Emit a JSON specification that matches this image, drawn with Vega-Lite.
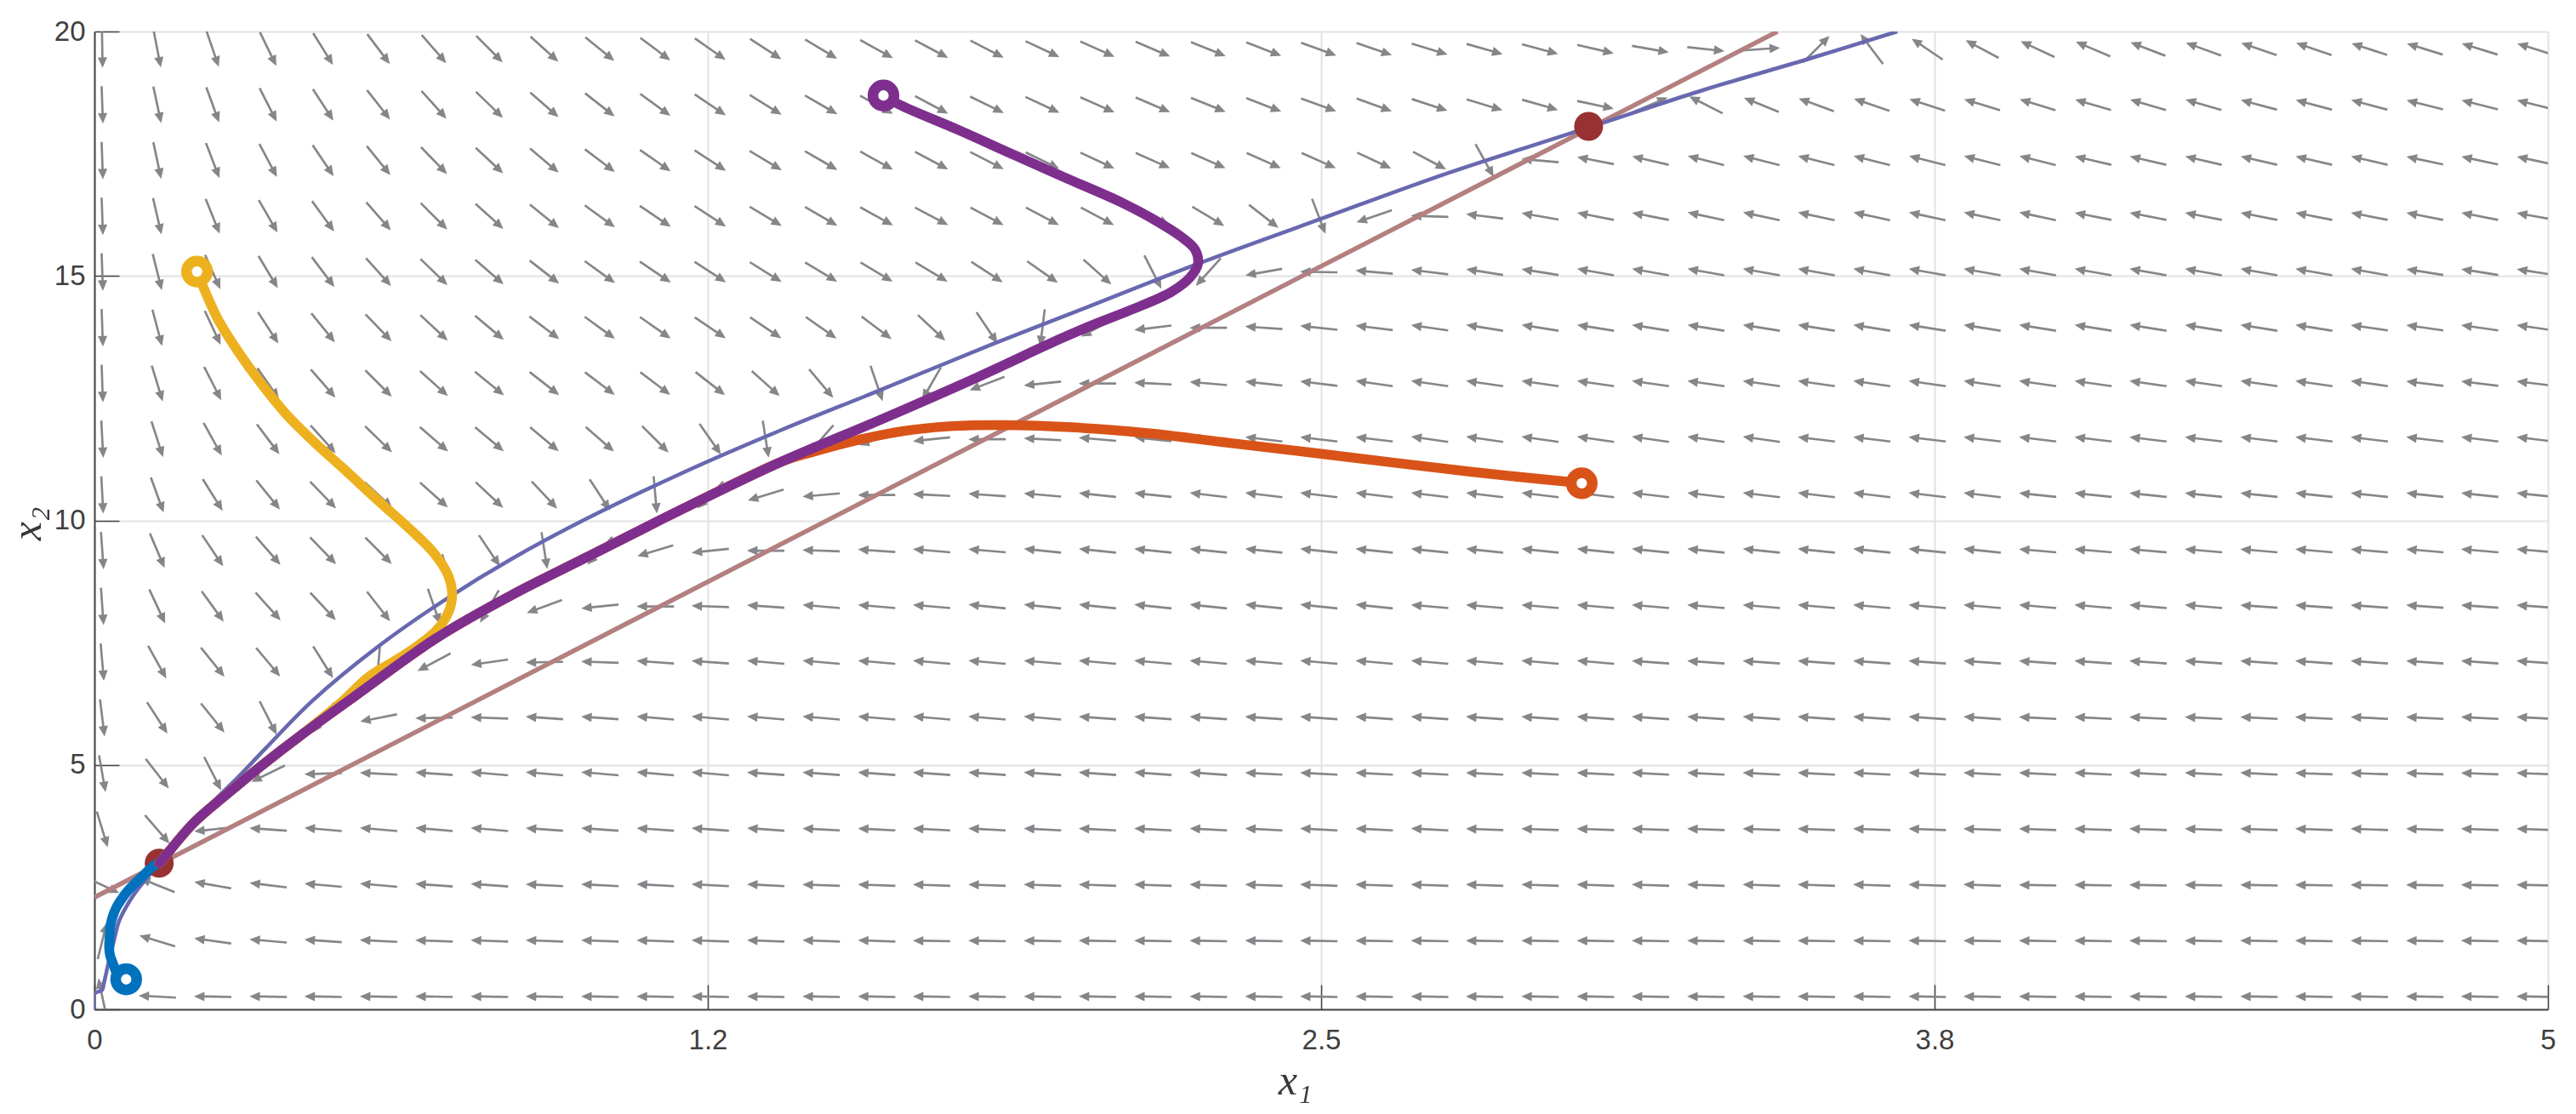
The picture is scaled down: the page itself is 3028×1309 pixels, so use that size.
{
"$schema": "https://vega.github.io/schema/vega-lite/v6.json",
"width": 2884, "height": 1149,
"autosize": {"type": "none"},
"padding": {"left": 111, "top": 37, "right": 33, "bottom": 123},
"background": "white",
"config": {
 "view": {"stroke": null},
 "axis": {"labelFont": "Liberation Sans", "labelFontSize": 33, "labelColor": "#404040", "domainColor": "#454545", "domainWidth": 2, "tickColor": "#454545", "tickWidth": 1.5, "gridColor": "#e2e2e2", "gridWidth": 2, "titleFont": "Liberation Serif", "titleFontSize": 50, "titleFontStyle": "italic", "titleFontWeight": "normal", "titleColor": "#383838"}
},
"datasets": {
"field": [
{"x":0.016,"y":0.26,"a":-12},{"x":0.128,"y":0.26,"a":-87},{"x":0.241,"y":0.26,"a":-89},{"x":0.354,"y":0.26,"a":-89},{"x":0.466,"y":0.26,"a":-89},{"x":0.579,"y":0.26,"a":-89},{"x":0.692,"y":0.26,"a":-89},{"x":0.805,"y":0.26,"a":-89},{"x":0.917,"y":0.26,"a":-89},{"x":1.03,"y":0.26,"a":-89},{"x":1.143,"y":0.26,"a":-89},{"x":1.255,"y":0.26,"a":-89},{"x":1.368,"y":0.26,"a":-89},{"x":1.481,"y":0.26,"a":-89},{"x":1.594,"y":0.26,"a":-89},{"x":1.706,"y":0.26,"a":-89},{"x":1.819,"y":0.26,"a":-89},{"x":1.932,"y":0.26,"a":-89},{"x":2.044,"y":0.26,"a":-89},{"x":2.157,"y":0.26,"a":-89},{"x":2.27,"y":0.26,"a":-89},{"x":2.383,"y":0.26,"a":-89},{"x":2.495,"y":0.26,"a":-89},{"x":2.608,"y":0.26,"a":-89},{"x":2.721,"y":0.26,"a":-89},{"x":2.833,"y":0.26,"a":-89},{"x":2.946,"y":0.26,"a":-89},{"x":3.059,"y":0.26,"a":-89},{"x":3.171,"y":0.26,"a":-89},{"x":3.284,"y":0.26,"a":-89},{"x":3.397,"y":0.26,"a":-89},{"x":3.509,"y":0.26,"a":-89},{"x":3.622,"y":0.26,"a":-89},{"x":3.735,"y":0.26,"a":-89},{"x":3.847,"y":0.26,"a":-89},{"x":3.96,"y":0.26,"a":-89},{"x":4.073,"y":0.26,"a":-89},{"x":4.185,"y":0.26,"a":-89},{"x":4.298,"y":0.26,"a":-89},{"x":4.411,"y":0.26,"a":-89},{"x":4.523,"y":0.26,"a":-89},{"x":4.636,"y":0.26,"a":-89},{"x":4.749,"y":0.26,"a":-89},{"x":4.861,"y":0.26,"a":-89},{"x":4.974,"y":0.26,"a":-89},
{"x":0.016,"y":1.4,"a":14},{"x":0.128,"y":1.4,"a":-73},{"x":0.241,"y":1.4,"a":-82},{"x":0.354,"y":1.4,"a":-85},{"x":0.466,"y":1.4,"a":-86},{"x":0.579,"y":1.4,"a":-87},{"x":0.692,"y":1.4,"a":-88},{"x":0.805,"y":1.4,"a":-88},{"x":0.917,"y":1.4,"a":-88},{"x":1.03,"y":1.4,"a":-88},{"x":1.143,"y":1.4,"a":-88},{"x":1.255,"y":1.4,"a":-88},{"x":1.368,"y":1.4,"a":-88},{"x":1.481,"y":1.4,"a":-88},{"x":1.594,"y":1.4,"a":-88},{"x":1.706,"y":1.4,"a":-89},{"x":1.819,"y":1.4,"a":-89},{"x":1.932,"y":1.4,"a":-89},{"x":2.044,"y":1.4,"a":-89},{"x":2.157,"y":1.4,"a":-89},{"x":2.27,"y":1.4,"a":-89},{"x":2.383,"y":1.4,"a":-89},{"x":2.495,"y":1.4,"a":-89},{"x":2.608,"y":1.4,"a":-89},{"x":2.721,"y":1.4,"a":-89},{"x":2.833,"y":1.4,"a":-89},{"x":2.946,"y":1.4,"a":-89},{"x":3.059,"y":1.4,"a":-89},{"x":3.171,"y":1.4,"a":-89},{"x":3.284,"y":1.4,"a":-89},{"x":3.397,"y":1.4,"a":-89},{"x":3.509,"y":1.4,"a":-89},{"x":3.622,"y":1.4,"a":-89},{"x":3.735,"y":1.4,"a":-89},{"x":3.847,"y":1.4,"a":-89},{"x":3.96,"y":1.4,"a":-89},{"x":4.073,"y":1.4,"a":-89},{"x":4.185,"y":1.4,"a":-89},{"x":4.298,"y":1.4,"a":-89},{"x":4.411,"y":1.4,"a":-89},{"x":4.523,"y":1.4,"a":-89},{"x":4.636,"y":1.4,"a":-89},{"x":4.749,"y":1.4,"a":-89},{"x":4.861,"y":1.4,"a":-89},{"x":4.974,"y":1.4,"a":-89},
{"x":0.016,"y":2.54,"a":115},{"x":0.128,"y":2.54,"a":-68},{"x":0.241,"y":2.54,"a":-80},{"x":0.354,"y":2.54,"a":-83},{"x":0.466,"y":2.54,"a":-85},{"x":0.579,"y":2.54,"a":-85},{"x":0.692,"y":2.54,"a":-86},{"x":0.805,"y":2.54,"a":-86},{"x":0.917,"y":2.54,"a":-87},{"x":1.03,"y":2.54,"a":-87},{"x":1.143,"y":2.54,"a":-87},{"x":1.255,"y":2.54,"a":-87},{"x":1.368,"y":2.54,"a":-87},{"x":1.481,"y":2.54,"a":-88},{"x":1.594,"y":2.54,"a":-88},{"x":1.706,"y":2.54,"a":-88},{"x":1.819,"y":2.54,"a":-88},{"x":1.932,"y":2.54,"a":-88},{"x":2.044,"y":2.54,"a":-88},{"x":2.157,"y":2.54,"a":-88},{"x":2.27,"y":2.54,"a":-88},{"x":2.383,"y":2.54,"a":-88},{"x":2.495,"y":2.54,"a":-88},{"x":2.608,"y":2.54,"a":-88},{"x":2.721,"y":2.54,"a":-88},{"x":2.833,"y":2.54,"a":-88},{"x":2.946,"y":2.54,"a":-88},{"x":3.059,"y":2.54,"a":-88},{"x":3.171,"y":2.54,"a":-88},{"x":3.284,"y":2.54,"a":-88},{"x":3.397,"y":2.54,"a":-88},{"x":3.509,"y":2.54,"a":-88},{"x":3.622,"y":2.54,"a":-88},{"x":3.735,"y":2.54,"a":-88},{"x":3.847,"y":2.54,"a":-88},{"x":3.96,"y":2.54,"a":-89},{"x":4.073,"y":2.54,"a":-89},{"x":4.185,"y":2.54,"a":-89},{"x":4.298,"y":2.54,"a":-89},{"x":4.411,"y":2.54,"a":-89},{"x":4.523,"y":2.54,"a":-89},{"x":4.636,"y":2.54,"a":-89},{"x":4.749,"y":2.54,"a":-89},{"x":4.861,"y":2.54,"a":-89},{"x":4.974,"y":2.54,"a":-89},
{"x":0.016,"y":3.68,"a":163},{"x":0.128,"y":3.68,"a":139},{"x":0.241,"y":3.68,"a":-96},{"x":0.354,"y":3.68,"a":-86},{"x":0.466,"y":3.68,"a":-85},{"x":0.579,"y":3.68,"a":-85},{"x":0.692,"y":3.68,"a":-85},{"x":0.805,"y":3.68,"a":-85},{"x":0.917,"y":3.68,"a":-86},{"x":1.03,"y":3.68,"a":-86},{"x":1.143,"y":3.68,"a":-86},{"x":1.255,"y":3.68,"a":-86},{"x":1.368,"y":3.68,"a":-86},{"x":1.481,"y":3.68,"a":-87},{"x":1.594,"y":3.68,"a":-87},{"x":1.706,"y":3.68,"a":-87},{"x":1.819,"y":3.68,"a":-87},{"x":1.932,"y":3.68,"a":-87},{"x":2.044,"y":3.68,"a":-87},{"x":2.157,"y":3.68,"a":-87},{"x":2.27,"y":3.68,"a":-87},{"x":2.383,"y":3.68,"a":-87},{"x":2.495,"y":3.68,"a":-87},{"x":2.608,"y":3.68,"a":-87},{"x":2.721,"y":3.68,"a":-87},{"x":2.833,"y":3.68,"a":-88},{"x":2.946,"y":3.68,"a":-88},{"x":3.059,"y":3.68,"a":-88},{"x":3.171,"y":3.68,"a":-88},{"x":3.284,"y":3.68,"a":-88},{"x":3.397,"y":3.68,"a":-88},{"x":3.509,"y":3.68,"a":-88},{"x":3.622,"y":3.68,"a":-88},{"x":3.735,"y":3.68,"a":-88},{"x":3.847,"y":3.68,"a":-88},{"x":3.96,"y":3.68,"a":-88},{"x":4.073,"y":3.68,"a":-88},{"x":4.185,"y":3.68,"a":-88},{"x":4.298,"y":3.68,"a":-88},{"x":4.411,"y":3.68,"a":-88},{"x":4.523,"y":3.68,"a":-88},{"x":4.636,"y":3.68,"a":-88},{"x":4.749,"y":3.68,"a":-88},{"x":4.861,"y":3.68,"a":-88},{"x":4.974,"y":3.68,"a":-88},
{"x":0.016,"y":4.82,"a":170},{"x":0.128,"y":4.82,"a":142},{"x":0.241,"y":4.82,"a":153},{"x":0.354,"y":4.82,"a":-116},{"x":0.466,"y":4.82,"a":-92},{"x":0.579,"y":4.82,"a":-87},{"x":0.692,"y":4.82,"a":-86},{"x":0.805,"y":4.82,"a":-85},{"x":0.917,"y":4.82,"a":-85},{"x":1.03,"y":4.82,"a":-85},{"x":1.143,"y":4.82,"a":-85},{"x":1.255,"y":4.82,"a":-85},{"x":1.368,"y":4.82,"a":-86},{"x":1.481,"y":4.82,"a":-86},{"x":1.594,"y":4.82,"a":-86},{"x":1.706,"y":4.82,"a":-86},{"x":1.819,"y":4.82,"a":-86},{"x":1.932,"y":4.82,"a":-86},{"x":2.044,"y":4.82,"a":-86},{"x":2.157,"y":4.82,"a":-86},{"x":2.27,"y":4.82,"a":-86},{"x":2.383,"y":4.82,"a":-87},{"x":2.495,"y":4.82,"a":-87},{"x":2.608,"y":4.82,"a":-87},{"x":2.721,"y":4.82,"a":-87},{"x":2.833,"y":4.82,"a":-87},{"x":2.946,"y":4.82,"a":-87},{"x":3.059,"y":4.82,"a":-87},{"x":3.171,"y":4.82,"a":-87},{"x":3.284,"y":4.82,"a":-87},{"x":3.397,"y":4.82,"a":-87},{"x":3.509,"y":4.82,"a":-87},{"x":3.622,"y":4.82,"a":-87},{"x":3.735,"y":4.82,"a":-87},{"x":3.847,"y":4.82,"a":-87},{"x":3.96,"y":4.82,"a":-87},{"x":4.073,"y":4.82,"a":-87},{"x":4.185,"y":4.82,"a":-87},{"x":4.298,"y":4.82,"a":-87},{"x":4.411,"y":4.82,"a":-87},{"x":4.523,"y":4.82,"a":-88},{"x":4.636,"y":4.82,"a":-88},{"x":4.749,"y":4.82,"a":-88},{"x":4.861,"y":4.82,"a":-88},{"x":4.974,"y":4.82,"a":-88},
{"x":0.016,"y":5.96,"a":173},{"x":0.128,"y":5.96,"a":147},{"x":0.241,"y":5.96,"a":141},{"x":0.354,"y":5.96,"a":153},{"x":0.466,"y":5.96,"a":-144},{"x":0.579,"y":5.96,"a":-101},{"x":0.692,"y":5.96,"a":-91},{"x":0.805,"y":5.96,"a":-88},{"x":0.917,"y":5.96,"a":-86},{"x":1.03,"y":5.96,"a":-86},{"x":1.143,"y":5.96,"a":-85},{"x":1.255,"y":5.96,"a":-85},{"x":1.368,"y":5.96,"a":-85},{"x":1.481,"y":5.96,"a":-85},{"x":1.594,"y":5.96,"a":-85},{"x":1.706,"y":5.96,"a":-85},{"x":1.819,"y":5.96,"a":-85},{"x":1.932,"y":5.96,"a":-85},{"x":2.044,"y":5.96,"a":-86},{"x":2.157,"y":5.96,"a":-86},{"x":2.27,"y":5.96,"a":-86},{"x":2.383,"y":5.96,"a":-86},{"x":2.495,"y":5.96,"a":-86},{"x":2.608,"y":5.96,"a":-86},{"x":2.721,"y":5.96,"a":-86},{"x":2.833,"y":5.96,"a":-86},{"x":2.946,"y":5.96,"a":-86},{"x":3.059,"y":5.96,"a":-86},{"x":3.171,"y":5.96,"a":-86},{"x":3.284,"y":5.96,"a":-86},{"x":3.397,"y":5.96,"a":-86},{"x":3.509,"y":5.96,"a":-86},{"x":3.622,"y":5.96,"a":-86},{"x":3.735,"y":5.96,"a":-86},{"x":3.847,"y":5.96,"a":-86},{"x":3.96,"y":5.96,"a":-87},{"x":4.073,"y":5.96,"a":-87},{"x":4.185,"y":5.96,"a":-87},{"x":4.298,"y":5.96,"a":-87},{"x":4.411,"y":5.96,"a":-87},{"x":4.523,"y":5.96,"a":-87},{"x":4.636,"y":5.96,"a":-87},{"x":4.749,"y":5.96,"a":-87},{"x":4.861,"y":5.96,"a":-87},{"x":4.974,"y":5.96,"a":-87},
{"x":0.016,"y":7.1,"a":175},{"x":0.128,"y":7.1,"a":151},{"x":0.241,"y":7.1,"a":141},{"x":0.354,"y":7.1,"a":140},{"x":0.466,"y":7.1,"a":148},{"x":0.579,"y":7.1,"a":-175},{"x":0.692,"y":7.1,"a":-118},{"x":0.805,"y":7.1,"a":-98},{"x":0.917,"y":7.1,"a":-91},{"x":1.03,"y":7.1,"a":-88},{"x":1.143,"y":7.1,"a":-86},{"x":1.255,"y":7.1,"a":-86},{"x":1.368,"y":7.1,"a":-85},{"x":1.481,"y":7.1,"a":-85},{"x":1.594,"y":7.1,"a":-85},{"x":1.706,"y":7.1,"a":-85},{"x":1.819,"y":7.1,"a":-85},{"x":1.932,"y":7.1,"a":-85},{"x":2.044,"y":7.1,"a":-85},{"x":2.157,"y":7.1,"a":-85},{"x":2.27,"y":7.1,"a":-85},{"x":2.383,"y":7.1,"a":-85},{"x":2.495,"y":7.1,"a":-85},{"x":2.608,"y":7.1,"a":-85},{"x":2.721,"y":7.1,"a":-85},{"x":2.833,"y":7.1,"a":-85},{"x":2.946,"y":7.1,"a":-85},{"x":3.059,"y":7.1,"a":-85},{"x":3.171,"y":7.1,"a":-86},{"x":3.284,"y":7.1,"a":-86},{"x":3.397,"y":7.1,"a":-86},{"x":3.509,"y":7.1,"a":-86},{"x":3.622,"y":7.1,"a":-86},{"x":3.735,"y":7.1,"a":-86},{"x":3.847,"y":7.1,"a":-86},{"x":3.96,"y":7.1,"a":-86},{"x":4.073,"y":7.1,"a":-86},{"x":4.185,"y":7.1,"a":-86},{"x":4.298,"y":7.1,"a":-86},{"x":4.411,"y":7.1,"a":-86},{"x":4.523,"y":7.1,"a":-86},{"x":4.636,"y":7.1,"a":-86},{"x":4.749,"y":7.1,"a":-86},{"x":4.861,"y":7.1,"a":-86},{"x":4.974,"y":7.1,"a":-86},
{"x":0.016,"y":8.24,"a":176},{"x":0.128,"y":8.24,"a":155},{"x":0.241,"y":8.24,"a":144},{"x":0.354,"y":8.24,"a":138},{"x":0.466,"y":8.24,"a":137},{"x":0.579,"y":8.24,"a":142},{"x":0.692,"y":8.24,"a":161},{"x":0.805,"y":8.24,"a":-150},{"x":0.917,"y":8.24,"a":-110},{"x":1.03,"y":8.24,"a":-96},{"x":1.143,"y":8.24,"a":-90},{"x":1.255,"y":8.24,"a":-88},{"x":1.368,"y":8.24,"a":-86},{"x":1.481,"y":8.24,"a":-85},{"x":1.594,"y":8.24,"a":-85},{"x":1.706,"y":8.24,"a":-85},{"x":1.819,"y":8.24,"a":-84},{"x":1.932,"y":8.24,"a":-84},{"x":2.044,"y":8.24,"a":-84},{"x":2.157,"y":8.24,"a":-84},{"x":2.27,"y":8.24,"a":-84},{"x":2.383,"y":8.24,"a":-84},{"x":2.495,"y":8.24,"a":-84},{"x":2.608,"y":8.24,"a":-84},{"x":2.721,"y":8.24,"a":-85},{"x":2.833,"y":8.24,"a":-85},{"x":2.946,"y":8.24,"a":-85},{"x":3.059,"y":8.24,"a":-85},{"x":3.171,"y":8.24,"a":-85},{"x":3.284,"y":8.24,"a":-85},{"x":3.397,"y":8.24,"a":-85},{"x":3.509,"y":8.24,"a":-85},{"x":3.622,"y":8.24,"a":-85},{"x":3.735,"y":8.24,"a":-85},{"x":3.847,"y":8.24,"a":-85},{"x":3.96,"y":8.24,"a":-85},{"x":4.073,"y":8.24,"a":-85},{"x":4.185,"y":8.24,"a":-85},{"x":4.298,"y":8.24,"a":-85},{"x":4.411,"y":8.24,"a":-86},{"x":4.523,"y":8.24,"a":-86},{"x":4.636,"y":8.24,"a":-86},{"x":4.749,"y":8.24,"a":-86},{"x":4.861,"y":8.24,"a":-86},{"x":4.974,"y":8.24,"a":-86},
{"x":0.016,"y":9.38,"a":176},{"x":0.128,"y":9.38,"a":157},{"x":0.241,"y":9.38,"a":146},{"x":0.354,"y":9.38,"a":139},{"x":0.466,"y":9.38,"a":136},{"x":0.579,"y":9.38,"a":135},{"x":0.692,"y":9.38,"a":137},{"x":0.805,"y":9.38,"a":146},{"x":0.917,"y":9.38,"a":171},{"x":1.03,"y":9.38,"a":-138},{"x":1.143,"y":9.38,"a":-107},{"x":1.255,"y":9.38,"a":-96},{"x":1.368,"y":9.38,"a":-90},{"x":1.481,"y":9.38,"a":-88},{"x":1.594,"y":9.38,"a":-86},{"x":1.706,"y":9.38,"a":-85},{"x":1.819,"y":9.38,"a":-85},{"x":1.932,"y":9.38,"a":-84},{"x":2.044,"y":9.38,"a":-84},{"x":2.157,"y":9.38,"a":-84},{"x":2.27,"y":9.38,"a":-84},{"x":2.383,"y":9.38,"a":-84},{"x":2.495,"y":9.38,"a":-84},{"x":2.608,"y":9.38,"a":-84},{"x":2.721,"y":9.38,"a":-84},{"x":2.833,"y":9.38,"a":-84},{"x":2.946,"y":9.38,"a":-84},{"x":3.059,"y":9.38,"a":-84},{"x":3.171,"y":9.38,"a":-84},{"x":3.284,"y":9.38,"a":-84},{"x":3.397,"y":9.38,"a":-84},{"x":3.509,"y":9.38,"a":-84},{"x":3.622,"y":9.38,"a":-84},{"x":3.735,"y":9.38,"a":-84},{"x":3.847,"y":9.38,"a":-84},{"x":3.96,"y":9.38,"a":-85},{"x":4.073,"y":9.38,"a":-85},{"x":4.185,"y":9.38,"a":-85},{"x":4.298,"y":9.38,"a":-85},{"x":4.411,"y":9.38,"a":-85},{"x":4.523,"y":9.38,"a":-85},{"x":4.636,"y":9.38,"a":-85},{"x":4.749,"y":9.38,"a":-85},{"x":4.861,"y":9.38,"a":-85},{"x":4.974,"y":9.38,"a":-85},
{"x":0.016,"y":10.52,"a":177},{"x":0.128,"y":10.52,"a":160},{"x":0.241,"y":10.52,"a":148},{"x":0.354,"y":10.52,"a":141},{"x":0.466,"y":10.52,"a":136},{"x":0.579,"y":10.52,"a":133},{"x":0.692,"y":10.52,"a":132},{"x":0.805,"y":10.52,"a":133},{"x":0.917,"y":10.52,"a":137},{"x":1.03,"y":10.52,"a":147},{"x":1.143,"y":10.52,"a":175},{"x":1.255,"y":10.52,"a":-136},{"x":1.368,"y":10.52,"a":-107},{"x":1.481,"y":10.52,"a":-95},{"x":1.594,"y":10.52,"a":-90},{"x":1.706,"y":10.52,"a":-87},{"x":1.819,"y":10.52,"a":-86},{"x":1.932,"y":10.52,"a":-85},{"x":2.044,"y":10.52,"a":-84},{"x":2.157,"y":10.52,"a":-84},{"x":2.27,"y":10.52,"a":-83},{"x":2.383,"y":10.52,"a":-83},{"x":2.495,"y":10.52,"a":-83},{"x":2.608,"y":10.52,"a":-83},{"x":2.721,"y":10.52,"a":-83},{"x":2.833,"y":10.52,"a":-83},{"x":2.946,"y":10.52,"a":-83},{"x":3.059,"y":10.52,"a":-83},{"x":3.171,"y":10.52,"a":-83},{"x":3.284,"y":10.52,"a":-83},{"x":3.397,"y":10.52,"a":-83},{"x":3.509,"y":10.52,"a":-83},{"x":3.622,"y":10.52,"a":-83},{"x":3.735,"y":10.52,"a":-83},{"x":3.847,"y":10.52,"a":-83},{"x":3.96,"y":10.52,"a":-84},{"x":4.073,"y":10.52,"a":-84},{"x":4.185,"y":10.52,"a":-84},{"x":4.298,"y":10.52,"a":-84},{"x":4.411,"y":10.52,"a":-84},{"x":4.523,"y":10.52,"a":-84},{"x":4.636,"y":10.52,"a":-84},{"x":4.749,"y":10.52,"a":-84},{"x":4.861,"y":10.52,"a":-84},{"x":4.974,"y":10.52,"a":-84},
{"x":0.016,"y":11.66,"a":177},{"x":0.128,"y":11.66,"a":162},{"x":0.241,"y":11.66,"a":151},{"x":0.354,"y":11.66,"a":143},{"x":0.466,"y":11.66,"a":138},{"x":0.579,"y":11.66,"a":134},{"x":0.692,"y":11.66,"a":131},{"x":0.805,"y":11.66,"a":130},{"x":0.917,"y":11.66,"a":130},{"x":1.03,"y":11.66,"a":131},{"x":1.143,"y":11.66,"a":135},{"x":1.255,"y":11.66,"a":145},{"x":1.368,"y":11.66,"a":171},{"x":1.481,"y":11.66,"a":-139},{"x":1.594,"y":11.66,"a":-108},{"x":1.706,"y":11.66,"a":-96},{"x":1.819,"y":11.66,"a":-90},{"x":1.932,"y":11.66,"a":-87},{"x":2.044,"y":11.66,"a":-85},{"x":2.157,"y":11.66,"a":-84},{"x":2.27,"y":11.66,"a":-84},{"x":2.383,"y":11.66,"a":-83},{"x":2.495,"y":11.66,"a":-83},{"x":2.608,"y":11.66,"a":-83},{"x":2.721,"y":11.66,"a":-82},{"x":2.833,"y":11.66,"a":-82},{"x":2.946,"y":11.66,"a":-82},{"x":3.059,"y":11.66,"a":-82},{"x":3.171,"y":11.66,"a":-82},{"x":3.284,"y":11.66,"a":-82},{"x":3.397,"y":11.66,"a":-82},{"x":3.509,"y":11.66,"a":-83},{"x":3.622,"y":11.66,"a":-83},{"x":3.735,"y":11.66,"a":-83},{"x":3.847,"y":11.66,"a":-83},{"x":3.96,"y":11.66,"a":-83},{"x":4.073,"y":11.66,"a":-83},{"x":4.185,"y":11.66,"a":-83},{"x":4.298,"y":11.66,"a":-83},{"x":4.411,"y":11.66,"a":-83},{"x":4.523,"y":11.66,"a":-83},{"x":4.636,"y":11.66,"a":-83},{"x":4.749,"y":11.66,"a":-83},{"x":4.861,"y":11.66,"a":-83},{"x":4.974,"y":11.66,"a":-83},
{"x":0.016,"y":12.8,"a":178},{"x":0.128,"y":12.8,"a":163},{"x":0.241,"y":12.8,"a":153},{"x":0.354,"y":12.8,"a":145},{"x":0.466,"y":12.8,"a":139},{"x":0.579,"y":12.8,"a":135},{"x":0.692,"y":12.8,"a":132},{"x":0.805,"y":12.8,"a":129},{"x":0.917,"y":12.8,"a":128},{"x":1.03,"y":12.8,"a":127},{"x":1.143,"y":12.8,"a":127},{"x":1.255,"y":12.8,"a":128},{"x":1.368,"y":12.8,"a":132},{"x":1.481,"y":12.8,"a":140},{"x":1.594,"y":12.8,"a":161},{"x":1.706,"y":12.8,"a":-150},{"x":1.819,"y":12.8,"a":-111},{"x":1.932,"y":12.8,"a":-96},{"x":2.044,"y":12.8,"a":-90},{"x":2.157,"y":12.8,"a":-87},{"x":2.27,"y":12.8,"a":-85},{"x":2.383,"y":12.8,"a":-84},{"x":2.495,"y":12.8,"a":-83},{"x":2.608,"y":12.8,"a":-82},{"x":2.721,"y":12.8,"a":-82},{"x":2.833,"y":12.8,"a":-82},{"x":2.946,"y":12.8,"a":-82},{"x":3.059,"y":12.8,"a":-82},{"x":3.171,"y":12.8,"a":-82},{"x":3.284,"y":12.8,"a":-82},{"x":3.397,"y":12.8,"a":-82},{"x":3.509,"y":12.8,"a":-82},{"x":3.622,"y":12.8,"a":-82},{"x":3.735,"y":12.8,"a":-82},{"x":3.847,"y":12.8,"a":-82},{"x":3.96,"y":12.8,"a":-82},{"x":4.073,"y":12.8,"a":-82},{"x":4.185,"y":12.8,"a":-82},{"x":4.298,"y":12.8,"a":-82},{"x":4.411,"y":12.8,"a":-82},{"x":4.523,"y":12.8,"a":-82},{"x":4.636,"y":12.8,"a":-82},{"x":4.749,"y":12.8,"a":-83},{"x":4.861,"y":12.8,"a":-83},{"x":4.974,"y":12.8,"a":-83},
{"x":0.016,"y":13.94,"a":178},{"x":0.128,"y":13.94,"a":165},{"x":0.241,"y":13.94,"a":155},{"x":0.354,"y":13.94,"a":147},{"x":0.466,"y":13.94,"a":141},{"x":0.579,"y":13.94,"a":136},{"x":0.692,"y":13.94,"a":133},{"x":0.805,"y":13.94,"a":130},{"x":0.917,"y":13.94,"a":127},{"x":1.03,"y":13.94,"a":126},{"x":1.143,"y":13.94,"a":125},{"x":1.255,"y":13.94,"a":124},{"x":1.368,"y":13.94,"a":124},{"x":1.481,"y":13.94,"a":125},{"x":1.594,"y":13.94,"a":127},{"x":1.706,"y":13.94,"a":133},{"x":1.819,"y":13.94,"a":146},{"x":1.932,"y":13.94,"a":-173},{"x":2.044,"y":13.94,"a":-118},{"x":2.157,"y":13.94,"a":-97},{"x":2.27,"y":13.94,"a":-90},{"x":2.383,"y":13.94,"a":-86},{"x":2.495,"y":13.94,"a":-84},{"x":2.608,"y":13.94,"a":-83},{"x":2.721,"y":13.94,"a":-82},{"x":2.833,"y":13.94,"a":-81},{"x":2.946,"y":13.94,"a":-81},{"x":3.059,"y":13.94,"a":-81},{"x":3.171,"y":13.94,"a":-81},{"x":3.284,"y":13.94,"a":-81},{"x":3.397,"y":13.94,"a":-81},{"x":3.509,"y":13.94,"a":-81},{"x":3.622,"y":13.94,"a":-81},{"x":3.735,"y":13.94,"a":-81},{"x":3.847,"y":13.94,"a":-81},{"x":3.96,"y":13.94,"a":-81},{"x":4.073,"y":13.94,"a":-81},{"x":4.185,"y":13.94,"a":-81},{"x":4.298,"y":13.94,"a":-81},{"x":4.411,"y":13.94,"a":-81},{"x":4.523,"y":13.94,"a":-81},{"x":4.636,"y":13.94,"a":-82},{"x":4.749,"y":13.94,"a":-82},{"x":4.861,"y":13.94,"a":-82},{"x":4.974,"y":13.94,"a":-82},
{"x":0.016,"y":15.08,"a":178},{"x":0.128,"y":15.08,"a":166},{"x":0.241,"y":15.08,"a":156},{"x":0.354,"y":15.08,"a":149},{"x":0.466,"y":15.08,"a":143},{"x":0.579,"y":15.08,"a":138},{"x":0.692,"y":15.08,"a":134},{"x":0.805,"y":15.08,"a":131},{"x":0.917,"y":15.08,"a":128},{"x":1.03,"y":15.08,"a":126},{"x":1.143,"y":15.08,"a":124},{"x":1.255,"y":15.08,"a":123},{"x":1.368,"y":15.08,"a":122},{"x":1.481,"y":15.08,"a":121},{"x":1.594,"y":15.08,"a":121},{"x":1.706,"y":15.08,"a":121},{"x":1.819,"y":15.08,"a":123},{"x":1.932,"y":15.08,"a":125},{"x":2.044,"y":15.08,"a":132},{"x":2.157,"y":15.08,"a":153},{"x":2.27,"y":15.08,"a":-138},{"x":2.383,"y":15.08,"a":-100},{"x":2.495,"y":15.08,"a":-89},{"x":2.608,"y":15.08,"a":-85},{"x":2.721,"y":15.08,"a":-83},{"x":2.833,"y":15.08,"a":-81},{"x":2.946,"y":15.08,"a":-81},{"x":3.059,"y":15.08,"a":-80},{"x":3.171,"y":15.08,"a":-80},{"x":3.284,"y":15.08,"a":-80},{"x":3.397,"y":15.08,"a":-80},{"x":3.509,"y":15.08,"a":-80},{"x":3.622,"y":15.08,"a":-80},{"x":3.735,"y":15.08,"a":-80},{"x":3.847,"y":15.08,"a":-80},{"x":3.96,"y":15.08,"a":-80},{"x":4.073,"y":15.08,"a":-80},{"x":4.185,"y":15.08,"a":-80},{"x":4.298,"y":15.08,"a":-80},{"x":4.411,"y":15.08,"a":-80},{"x":4.523,"y":15.08,"a":-80},{"x":4.636,"y":15.08,"a":-80},{"x":4.749,"y":15.08,"a":-81},{"x":4.861,"y":15.08,"a":-81},{"x":4.974,"y":15.08,"a":-81},
{"x":0.016,"y":16.22,"a":178},{"x":0.128,"y":16.22,"a":167},{"x":0.241,"y":16.22,"a":158},{"x":0.354,"y":16.22,"a":150},{"x":0.466,"y":16.22,"a":144},{"x":0.579,"y":16.22,"a":139},{"x":0.692,"y":16.22,"a":135},{"x":0.805,"y":16.22,"a":132},{"x":0.917,"y":16.22,"a":129},{"x":1.03,"y":16.22,"a":126},{"x":1.143,"y":16.22,"a":124},{"x":1.255,"y":16.22,"a":123},{"x":1.368,"y":16.22,"a":121},{"x":1.481,"y":16.22,"a":120},{"x":1.594,"y":16.22,"a":119},{"x":1.706,"y":16.22,"a":118},{"x":1.819,"y":16.22,"a":118},{"x":1.932,"y":16.22,"a":118},{"x":2.044,"y":16.22,"a":118},{"x":2.157,"y":16.22,"a":119},{"x":2.27,"y":16.22,"a":121},{"x":2.383,"y":16.22,"a":128},{"x":2.495,"y":16.22,"a":159},{"x":2.608,"y":16.22,"a":-109},{"x":2.721,"y":16.22,"a":-88},{"x":2.833,"y":16.22,"a":-83},{"x":2.946,"y":16.22,"a":-80},{"x":3.059,"y":16.22,"a":-79},{"x":3.171,"y":16.22,"a":-79},{"x":3.284,"y":16.22,"a":-78},{"x":3.397,"y":16.22,"a":-78},{"x":3.509,"y":16.22,"a":-78},{"x":3.622,"y":16.22,"a":-78},{"x":3.735,"y":16.22,"a":-78},{"x":3.847,"y":16.22,"a":-78},{"x":3.96,"y":16.22,"a":-78},{"x":4.073,"y":16.22,"a":-79},{"x":4.185,"y":16.22,"a":-79},{"x":4.298,"y":16.22,"a":-79},{"x":4.411,"y":16.22,"a":-79},{"x":4.523,"y":16.22,"a":-79},{"x":4.636,"y":16.22,"a":-79},{"x":4.749,"y":16.22,"a":-79},{"x":4.861,"y":16.22,"a":-79},{"x":4.974,"y":16.22,"a":-80},
{"x":0.016,"y":17.36,"a":178},{"x":0.128,"y":17.36,"a":168},{"x":0.241,"y":17.36,"a":159},{"x":0.354,"y":17.36,"a":152},{"x":0.466,"y":17.36,"a":146},{"x":0.579,"y":17.36,"a":141},{"x":0.692,"y":17.36,"a":136},{"x":0.805,"y":17.36,"a":133},{"x":0.917,"y":17.36,"a":130},{"x":1.03,"y":17.36,"a":127},{"x":1.143,"y":17.36,"a":125},{"x":1.255,"y":17.36,"a":123},{"x":1.368,"y":17.36,"a":121},{"x":1.481,"y":17.36,"a":120},{"x":1.594,"y":17.36,"a":119},{"x":1.706,"y":17.36,"a":118},{"x":1.819,"y":17.36,"a":117},{"x":1.932,"y":17.36,"a":116},{"x":2.044,"y":17.36,"a":115},{"x":2.157,"y":17.36,"a":114},{"x":2.27,"y":17.36,"a":114},{"x":2.383,"y":17.36,"a":114},{"x":2.495,"y":17.36,"a":114},{"x":2.608,"y":17.36,"a":115},{"x":2.721,"y":17.36,"a":118},{"x":2.833,"y":17.36,"a":151},{"x":2.946,"y":17.36,"a":-85},{"x":3.059,"y":17.36,"a":-79},{"x":3.171,"y":17.36,"a":-77},{"x":3.284,"y":17.36,"a":-76},{"x":3.397,"y":17.36,"a":-76},{"x":3.509,"y":17.36,"a":-76},{"x":3.622,"y":17.36,"a":-76},{"x":3.735,"y":17.36,"a":-76},{"x":3.847,"y":17.36,"a":-76},{"x":3.96,"y":17.36,"a":-76},{"x":4.073,"y":17.36,"a":-77},{"x":4.185,"y":17.36,"a":-77},{"x":4.298,"y":17.36,"a":-77},{"x":4.411,"y":17.36,"a":-77},{"x":4.523,"y":17.36,"a":-77},{"x":4.636,"y":17.36,"a":-77},{"x":4.749,"y":17.36,"a":-78},{"x":4.861,"y":17.36,"a":-78},{"x":4.974,"y":17.36,"a":-78},
{"x":0.016,"y":18.5,"a":178},{"x":0.128,"y":18.5,"a":168},{"x":0.241,"y":18.5,"a":160},{"x":0.354,"y":18.5,"a":153},{"x":0.466,"y":18.5,"a":147},{"x":0.579,"y":18.5,"a":142},{"x":0.692,"y":18.5,"a":138},{"x":0.805,"y":18.5,"a":134},{"x":0.917,"y":18.5,"a":131},{"x":1.03,"y":18.5,"a":128},{"x":1.143,"y":18.5,"a":126},{"x":1.255,"y":18.5,"a":124},{"x":1.368,"y":18.5,"a":122},{"x":1.481,"y":18.5,"a":120},{"x":1.594,"y":18.5,"a":119},{"x":1.706,"y":18.5,"a":118},{"x":1.819,"y":18.5,"a":116},{"x":1.932,"y":18.5,"a":115},{"x":2.044,"y":18.5,"a":114},{"x":2.157,"y":18.5,"a":113},{"x":2.27,"y":18.5,"a":112},{"x":2.383,"y":18.5,"a":111},{"x":2.495,"y":18.5,"a":110},{"x":2.608,"y":18.5,"a":110},{"x":2.721,"y":18.5,"a":108},{"x":2.833,"y":18.5,"a":107},{"x":2.946,"y":18.5,"a":106},{"x":3.059,"y":18.5,"a":102},{"x":3.171,"y":18.5,"a":67},{"x":3.284,"y":18.5,"a":-63},{"x":3.397,"y":18.5,"a":-68},{"x":3.509,"y":18.5,"a":-70},{"x":3.622,"y":18.5,"a":-71},{"x":3.735,"y":18.5,"a":-72},{"x":3.847,"y":18.5,"a":-73},{"x":3.96,"y":18.5,"a":-73},{"x":4.073,"y":18.5,"a":-74},{"x":4.185,"y":18.5,"a":-74},{"x":4.298,"y":18.5,"a":-74},{"x":4.411,"y":18.5,"a":-75},{"x":4.523,"y":18.5,"a":-75},{"x":4.636,"y":18.5,"a":-75},{"x":4.749,"y":18.5,"a":-76},{"x":4.861,"y":18.5,"a":-76},{"x":4.974,"y":18.5,"a":-76},
{"x":0.016,"y":19.64,"a":179},{"x":0.128,"y":19.64,"a":169},{"x":0.241,"y":19.64,"a":161},{"x":0.354,"y":19.64,"a":154},{"x":0.466,"y":19.64,"a":148},{"x":0.579,"y":19.64,"a":143},{"x":0.692,"y":19.64,"a":139},{"x":0.805,"y":19.64,"a":135},{"x":0.917,"y":19.64,"a":132},{"x":1.03,"y":19.64,"a":129},{"x":1.143,"y":19.64,"a":127},{"x":1.255,"y":19.64,"a":125},{"x":1.368,"y":19.64,"a":123},{"x":1.481,"y":19.64,"a":121},{"x":1.594,"y":19.64,"a":119},{"x":1.706,"y":19.64,"a":118},{"x":1.819,"y":19.64,"a":117},{"x":1.932,"y":19.64,"a":115},{"x":2.044,"y":19.64,"a":114},{"x":2.157,"y":19.64,"a":113},{"x":2.27,"y":19.64,"a":112},{"x":2.383,"y":19.64,"a":111},{"x":2.495,"y":19.64,"a":110},{"x":2.608,"y":19.64,"a":109},{"x":2.721,"y":19.64,"a":107},{"x":2.833,"y":19.64,"a":106},{"x":2.946,"y":19.64,"a":105},{"x":3.059,"y":19.64,"a":103},{"x":3.171,"y":19.64,"a":100},{"x":3.284,"y":19.64,"a":96},{"x":3.397,"y":19.64,"a":86},{"x":3.509,"y":19.64,"a":45},{"x":3.622,"y":19.64,"a":-37},{"x":3.735,"y":19.64,"a":-56},{"x":3.847,"y":19.64,"a":-62},{"x":3.96,"y":19.64,"a":-65},{"x":4.073,"y":19.64,"a":-67},{"x":4.185,"y":19.64,"a":-69},{"x":4.298,"y":19.64,"a":-70},{"x":4.411,"y":19.64,"a":-71},{"x":4.523,"y":19.64,"a":-71},{"x":4.636,"y":19.64,"a":-72},{"x":4.749,"y":19.64,"a":-73},{"x":4.861,"y":19.64,"a":-73},{"x":4.974,"y":19.64,"a":-73}
],
"xnull": [
{"i":0,"x":0,"y":0},{"i":1,"x":0,"y":0.32},{"i":2,"x":0.008,"y":0.36},{"i":3,"x":0.016,"y":0.4},{"i":4,"x":0.019,"y":0.52},{"i":5,"x":0.024,"y":0.74},{"i":6,"x":0.029,"y":0.97},{"i":7,"x":0.035,"y":1.2},{"i":8,"x":0.042,"y":1.5},{"i":9,"x":0.05,"y":1.8},{"i":10,"x":0.065,"y":2.1},{"i":11,"x":0.082,"y":2.37},{"i":12,"x":0.114,"y":2.77},{"i":13,"x":0.172,"y":3.47},{"i":14,"x":0.229,"y":4.12},{"i":15,"x":0.293,"y":4.75},{"i":16,"x":0.35,"y":5.35},{"i":17,"x":0.443,"y":6.3},{"i":18,"x":0.582,"y":7.45},{"i":19,"x":0.721,"y":8.42},{"i":20,"x":0.848,"y":9.2},{"i":21,"x":1.0,"y":10.02},{"i":22,"x":1.2,"y":10.98},{"i":23,"x":1.4,"y":11.85},{"i":24,"x":1.6,"y":12.66},{"i":25,"x":1.829,"y":13.6},{"i":26,"x":2.0,"y":14.27},{"i":27,"x":2.249,"y":15.25},{"i":28,"x":2.503,"y":16.18},{"i":29,"x":2.757,"y":17.1},{"i":30,"x":3.034,"y":18.0},{"i":31,"x":3.275,"y":18.79},{"i":32,"x":3.5,"y":19.46},{"i":33,"x":3.674,"y":20.0}
],
"ynull": [{"i":0,"x":0,"y":2.29},{"i":1,"x":3.43,"y":20}],
"fixed": [{"x":0.132,"y":2.99},{"x":3.045,"y":18.06}],
"traj": [
{"t":"blue","i":0,"x":0.0647,"y":0.614},{"t":"blue","i":1,"x":0.048,"y":0.7},{"t":"blue","i":2,"x":0.0387,"y":0.917},{"t":"blue","i":3,"x":0.032,"y":1.1},{"t":"blue","i":4,"x":0.03,"y":1.265},{"t":"blue","i":5,"x":0.031,"y":1.5},{"t":"blue","i":6,"x":0.033,"y":1.73},{"t":"blue","i":7,"x":0.038,"y":1.92},{"t":"blue","i":8,"x":0.0445,"y":2.08},{"t":"blue","i":9,"x":0.055,"y":2.25},{"t":"blue","i":10,"x":0.0676,"y":2.42},{"t":"blue","i":11,"x":0.082,"y":2.57},{"t":"blue","i":12,"x":0.0966,"y":2.71},{"t":"blue","i":13,"x":0.11,"y":2.84},{"t":"blue","i":14,"x":0.1225,"y":2.95},{"t":"blue","i":15,"x":0.132,"y":2.99},
{"t":"orange","i":0,"x":3.031,"y":10.76},{"t":"orange","i":1,"x":2.8,"y":11.0},{"t":"orange","i":2,"x":2.486,"y":11.38},{"t":"orange","i":3,"x":2.3,"y":11.6},{"t":"orange","i":4,"x":2.151,"y":11.78},{"t":"orange","i":5,"x":2.0,"y":11.9},{"t":"orange","i":6,"x":1.85,"y":11.95},{"t":"orange","i":7,"x":1.75,"y":11.93},{"t":"orange","i":8,"x":1.65,"y":11.83},{"t":"orange","i":9,"x":1.55,"y":11.63},{"t":"orange","i":10,"x":1.46,"y":11.39},{"t":"orange","i":11,"x":1.4,"y":11.2},{"t":"orange","i":12,"x":1.2,"y":10.24},{"t":"orange","i":13,"x":1.0,"y":9.23},{"t":"orange","i":14,"x":0.848,"y":8.46},{"t":"orange","i":15,"x":0.698,"y":7.6},{"t":"orange","i":16,"x":0.53,"y":6.4},{"t":"orange","i":17,"x":0.42,"y":5.6},{"t":"orange","i":18,"x":0.34,"y":4.98},{"t":"orange","i":19,"x":0.27,"y":4.4},{"t":"orange","i":20,"x":0.203,"y":3.82},{"t":"orange","i":21,"x":0.143,"y":3.12},{"t":"orange","i":22,"x":0.132,"y":2.99},
{"t":"yellow","i":0,"x":0.209,"y":15.09},{"t":"yellow","i":1,"x":0.221,"y":14.79},{"t":"yellow","i":2,"x":0.253,"y":14.09},{"t":"yellow","i":3,"x":0.293,"y":13.45},{"t":"yellow","i":4,"x":0.339,"y":12.81},{"t":"yellow","i":5,"x":0.391,"y":12.17},{"t":"yellow","i":6,"x":0.449,"y":11.59},{"t":"yellow","i":7,"x":0.513,"y":11.01},{"t":"yellow","i":8,"x":0.582,"y":10.37},{"t":"yellow","i":9,"x":0.64,"y":9.85},{"t":"yellow","i":10,"x":0.692,"y":9.33},{"t":"yellow","i":11,"x":0.721,"y":8.87},{"t":"yellow","i":12,"x":0.729,"y":8.46},{"t":"yellow","i":13,"x":0.721,"y":8.11},{"t":"yellow","i":14,"x":0.698,"y":7.76},{"t":"yellow","i":15,"x":0.657,"y":7.42},{"t":"yellow","i":16,"x":0.611,"y":7.12},{"t":"yellow","i":17,"x":0.559,"y":6.8},{"t":"yellow","i":18,"x":0.5,"y":6.25},{"t":"yellow","i":19,"x":0.42,"y":5.6},{"t":"yellow","i":20,"x":0.34,"y":4.98},{"t":"yellow","i":21,"x":0.27,"y":4.4},{"t":"yellow","i":22,"x":0.203,"y":3.82},{"t":"yellow","i":23,"x":0.143,"y":3.12},{"t":"yellow","i":24,"x":0.132,"y":2.99},
{"t":"purple","i":0,"x":1.608,"y":18.69},{"t":"purple","i":1,"x":1.641,"y":18.5},{"t":"purple","i":2,"x":1.762,"y":17.98},{"t":"purple","i":3,"x":1.873,"y":17.48},{"t":"purple","i":4,"x":1.983,"y":16.99},{"t":"purple","i":5,"x":2.094,"y":16.5},{"t":"purple","i":6,"x":2.16,"y":16.15},{"t":"purple","i":7,"x":2.215,"y":15.8},{"t":"purple","i":8,"x":2.243,"y":15.54},{"t":"purple","i":9,"x":2.249,"y":15.25},{"t":"purple","i":10,"x":2.232,"y":14.96},{"t":"purple","i":11,"x":2.194,"y":14.67},{"t":"purple","i":12,"x":2.116,"y":14.32},{"t":"purple","i":13,"x":2.028,"y":13.97},{"t":"purple","i":14,"x":1.961,"y":13.68},{"t":"purple","i":15,"x":1.8,"y":12.93},{"t":"purple","i":16,"x":1.6,"y":12.05},{"t":"purple","i":17,"x":1.4,"y":11.2},{"t":"purple","i":18,"x":1.2,"y":10.24},{"t":"purple","i":19,"x":1.0,"y":9.23},{"t":"purple","i":20,"x":0.848,"y":8.46},{"t":"purple","i":21,"x":0.698,"y":7.6},{"t":"purple","i":22,"x":0.53,"y":6.4},{"t":"purple","i":23,"x":0.42,"y":5.6},{"t":"purple","i":24,"x":0.34,"y":4.98},{"t":"purple","i":25,"x":0.27,"y":4.4},{"t":"purple","i":26,"x":0.203,"y":3.82},{"t":"purple","i":27,"x":0.143,"y":3.12},{"t":"purple","i":28,"x":0.132,"y":2.99}
],
"starts": [{"t":"blue","x":0.0647,"y":0.614},{"t":"orange","x":3.031,"y":10.76},{"t":"yellow","x":0.209,"y":15.09},{"t":"purple","x":1.608,"y":18.69}]
},
"encoding": {
 "x": {"field": "x", "type": "quantitative", "scale": {"domain": [0, 5], "nice": false, "zero": false},
  "axis": {"values": [0, 1.25, 2.5, 3.75, 5], "labelExpr": "datum.value == 0 ? '0' : datum.value == 1.25 ? '1.2' : datum.value == 2.5 ? '2.5' : datum.value == 3.75 ? '3.8' : '5'", "title": "x₁", "grid": true, "tickSize": -29, "labelPadding": 49, "labelFlush": false, "labelOverlap": false, "labelBound": false, "titleX": 1411, "titleY": 99, "titleBaseline": "alphabetic", "titleAlign": "center", "titleAngle": 0}},
 "y": {"field": "y", "type": "quantitative", "scale": {"domain": [0, 20], "nice": false, "zero": false},
  "axis": {"values": [0, 5, 10, 15, 20], "format": "d", "title": "x₂", "grid": true, "tickSize": -29, "labelPadding": 40, "labelFlush": false, "labelOverlap": false, "labelBound": false, "titleX": -64, "titleY": 578, "titleAngle": -90, "titleBaseline": "alphabetic", "titleAlign": "center"}}
},
"layer": [
 {"data": {"name": "field"}, "mark": {"type": "point", "shape": "M0,-1L0.25,-0.44L0.06,-0.44L0.06,1L-0.06,1L-0.06,-0.44L-0.25,-0.44Z", "filled": true, "size": 1936, "color": "#86868a", "opacity": 1, "strokeWidth": 0, "clip": true},
  "encoding": {"angle": {"field": "a", "type": "quantitative", "scale": null}}},
 {"data": {"name": "ynull"}, "mark": {"type": "line", "color": "#b38080", "strokeWidth": 5.5, "clip": true}, "encoding": {"order": {"field": "i", "type": "quantitative"}}},
 {"data": {"name": "xnull"}, "mark": {"type": "line", "color": "#6868b0", "strokeWidth": 4.5, "clip": true, "interpolate": "catmull-rom"}, "encoding": {"order": {"field": "i", "type": "quantitative"}}},
 {"data": {"name": "fixed"}, "mark": {"type": "point", "shape": "circle", "filled": true, "size": 1156, "color": "#983232", "opacity": 1, "strokeWidth": 0}},
 {"data": {"name": "traj"}, "transform": [{"filter": "datum.t == 'blue'"}], "mark": {"type": "line", "color": "#0072BD", "strokeWidth": 11.5, "strokeCap": "round", "strokeJoin": "round", "interpolate": "catmull-rom"}, "encoding": {"order": {"field": "i", "type": "quantitative"}}},
 {"data": {"name": "traj"}, "transform": [{"filter": "datum.t == 'orange'"}], "mark": {"type": "line", "color": "#D95319", "strokeWidth": 11.5, "strokeCap": "round", "strokeJoin": "round", "interpolate": "catmull-rom"}, "encoding": {"order": {"field": "i", "type": "quantitative"}}},
 {"data": {"name": "traj"}, "transform": [{"filter": "datum.t == 'yellow'"}], "mark": {"type": "line", "color": "#EDB120", "strokeWidth": 11.5, "strokeCap": "round", "strokeJoin": "round", "interpolate": "catmull-rom"}, "encoding": {"order": {"field": "i", "type": "quantitative"}}},
 {"data": {"name": "traj"}, "transform": [{"filter": "datum.t == 'purple'"}], "mark": {"type": "line", "color": "#7E2F8E", "strokeWidth": 11.5, "strokeCap": "round", "strokeJoin": "round", "interpolate": "catmull-rom"}, "encoding": {"order": {"field": "i", "type": "quantitative"}}},
 {"data": {"name": "starts"}, "mark": {"type": "point", "shape": "circle", "size": 615, "filled": true, "fill": "white", "strokeWidth": 12.5, "opacity": 1},
  "encoding": {"stroke": {"field": "t", "type": "nominal", "scale": {"domain": ["blue", "orange", "yellow", "purple"], "range": ["#0072BD", "#D95319", "#EDB120", "#7E2F8E"]}, "legend": null}}}
]
}
